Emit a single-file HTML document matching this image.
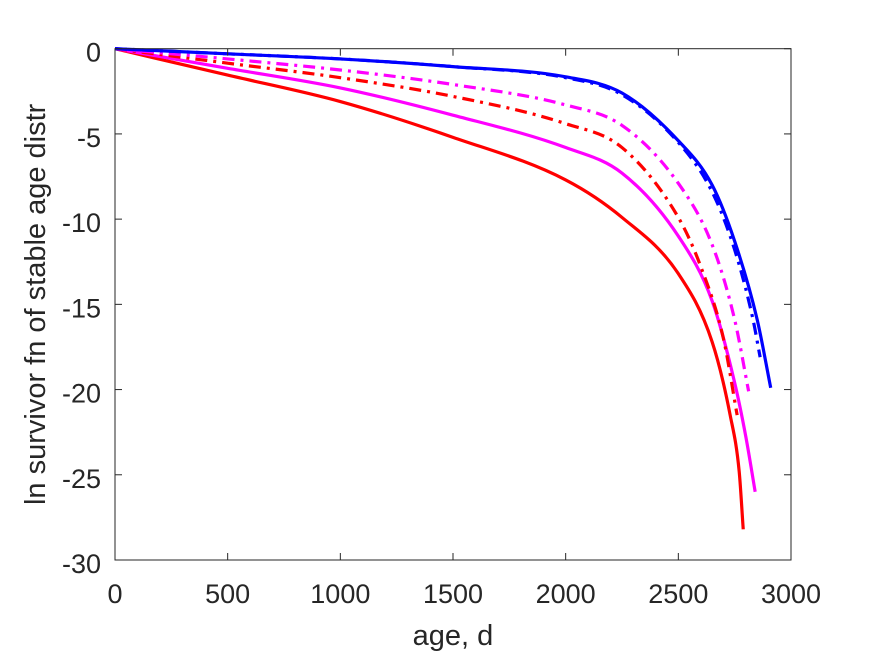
<!DOCTYPE html>
<html><head><meta charset="utf-8"><style>
body{margin:0;background:#fff;}
svg text{font-family:"Liberation Sans",sans-serif;fill:#262626;}
</style></head><body>
<svg id="chart" width="875" height="656" xmlns="http://www.w3.org/2000/svg">
<rect width="875" height="656" fill="#fff"/>
<g id="plot"></g>
<g id="axes"></g>
</svg>
<script>
const xTicks=[0,500,1000,1500,2000,2500,3000];
const yTicks=[0,-5,-10,-15,-20,-25,-30];
const blueSolidX=[0,500,1000,1500,2000,2250,2500,2650,2750,2850,2910];
const blueSolidY=[0,-0.3,-0.6,-1.05,-1.65,-2.6,-5.4,-8.0,-11.3,-15.9,-19.9];
const blueDashX=[0,500,1000,1500,2000,2250,2500,2650,2750,2830,2863];
const blueDashY=[0,-0.3,-0.6,-1.05,-1.7,-2.7,-5.5,-8.4,-11.8,-15.8,-18.1];
const magDashX=[0,500,1000,1500,2000,2250,2500,2650,2750,2812];
const magDashY=[0,-0.6,-1.25,-2.1,-3.3,-4.5,-7.9,-11.5,-15.9,-20.1];
const redDashX=[0,500,1000,1500,2000,2250,2500,2600,2700,2761];
const redDashY=[0,-0.85,-1.7,-2.8,-4.4,-5.8,-9.9,-12.8,-17.0,-21.5];
const magSolidX=[0,500,1000,1500,2000,2250,2500,2650,2750,2800,2841];
const magSolidY=[0,-1.15,-2.3,-3.9,-5.8,-7.3,-11.0,-14.8,-19.6,-22.8,-26.0];
const redSolidX=[0,500,1000,1500,2000,2250,2500,2650,2730,2770,2788];
const redSolidY=[0,-1.55,-3.1,-5.2,-7.7,-9.9,-13.2,-17.2,-21.5,-24.8,-28.2];
const series=[
 ['red-solid',redSolidX,redSolidY,'#ff0000',''],
 ['magenta-solid',magSolidX,magSolidY,'#ff00ff',''],
 ['red-dashdot',redDashX,redDashY,'#ff0000','12 6 3 6'],
 ['magenta-dashdot',magDashX,magDashY,'#ff00ff','12 6 3 6'],
 ['blue-solid',blueSolidX,blueSolidY,'#0000ff',''],
 ['blue-dashdot',blueDashX,blueDashY,'#0000ff','12 6 3 6']
];
const L=115,R=791,T=48.7,B=560;
const sx=v=>L+(v-0)/3000*(R-L);
const sy=v=>T+(0-v)/30*(B-T);
const NS='http://www.w3.org/2000/svg';
const plot=document.getElementById('plot'),axes=document.getElementById('axes');
function mk(tag,attrs,parent){const e=document.createElementNS(NS,tag);for(const k in attrs)e.setAttribute(k,attrs[k]);parent.appendChild(e);return e;}
// monotone cubic (Fritsch-Carlson) in data space
function pathD(xs,ys){
 const n=xs.length,d=[],m=new Array(n);
 for(let i=0;i<n-1;i++)d.push((ys[i+1]-ys[i])/(xs[i+1]-xs[i]));
 m[0]=d[0];m[n-1]=d[n-2];
 for(let i=1;i<n-1;i++){m[i]=(d[i-1]*d[i]<=0)?0:(d[i-1]+d[i])/2;}
 for(let i=0;i<n-1;i++){if(d[i]===0){m[i]=0;m[i+1]=0;continue;}const a=m[i]/d[i],b=m[i+1]/d[i],s=a*a+b*b;if(s>9){const t=3/Math.sqrt(s);m[i]=t*a*d[i];m[i+1]=t*b*d[i];}}
 let p='M'+sx(xs[0])+','+sy(ys[0]);
 for(let i=0;i<n-1;i++){const h=xs[i+1]-xs[i];
  p+=' C'+sx(xs[i]+h/3)+','+sy(ys[i]+m[i]*h/3)+' '+sx(xs[i+1]-h/3)+','+sy(ys[i+1]-m[i+1]*h/3)+' '+sx(xs[i+1])+','+sy(ys[i+1]);}
 return p;}
for(const s of series){
 const el=mk('path',{d:pathD(s[1],s[2]),fill:'none',stroke:s[3],'stroke-width':3.2},plot);
 if(s[4])el.setAttribute('stroke-dasharray',s[4]);
 
 
}
const box=mk('rect',{x:L,y:T,width:R-L,height:B-T,fill:'none',stroke:'#262626','stroke-width':1},axes);


for(const t of xTicks){
 const x=sx(t);
 mk('line',{x1:x,x2:x,y1:B,y2:B-7,stroke:'#262626'},axes);
 mk('line',{x1:x,x2:x,y1:T,y2:T+7,stroke:'#262626'},axes);
 const tx=mk('text',{x:x,y:603,'text-anchor':'middle','font-size':27},axes);
 tx.textContent=t;
 
 
}
for(const t of yTicks){
 const y=sy(t);
 mk('line',{x1:L,x2:L+7,y1:y,y2:y,stroke:'#262626'},axes);
 mk('line',{x1:R,x2:R-7,y1:y,y2:y,stroke:'#262626'},axes);
 const tx=mk('text',{x:101,y:y+13,'text-anchor':'end','font-size':27},axes);
 tx.textContent=t;
 
 
}
const xl=mk('text',{x:(L+R)/2,y:645,'text-anchor':'middle','font-size':29},axes);
xl.textContent='age, d';


const yl=mk('text',{x:0,y:0,'text-anchor':'middle','font-size':29,transform:'translate(45,'+((T+B)/2)+') rotate(-90)'},axes);
yl.textContent='ln survivor fn of stable age distr';


</script>
</body></html>
